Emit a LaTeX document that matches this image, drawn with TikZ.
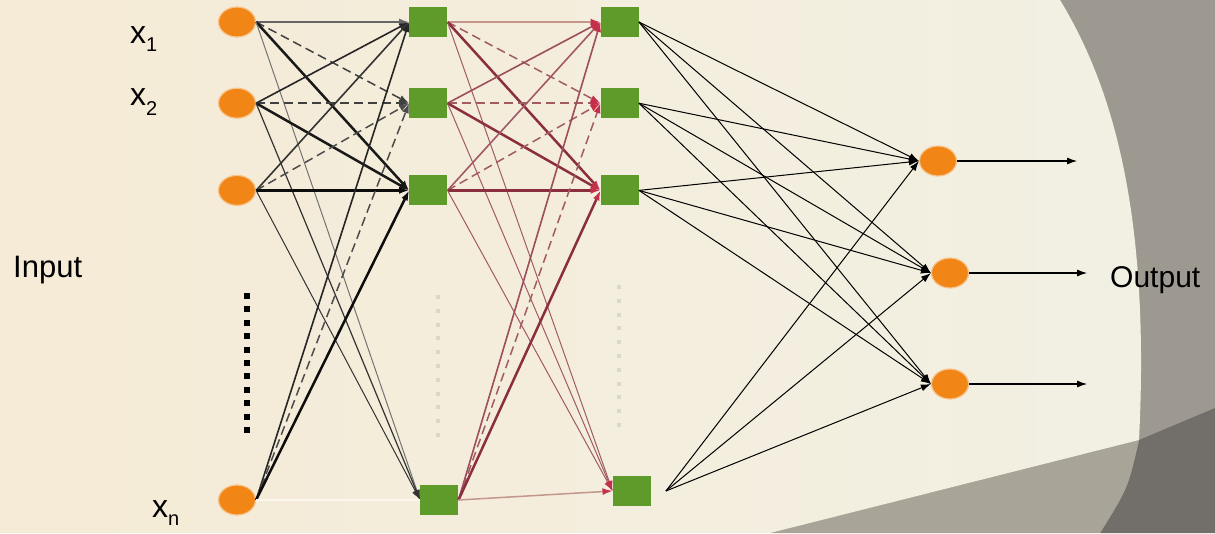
\documentclass[tikz,border=0pt]{standalone}
\usepackage{fontspec}
\setmainfont{Liberation Sans}
\usetikzlibrary{arrows.meta,positioning,shapes.geometric}
\definecolor{cream}{RGB}{245,235,214}
\definecolor{creamlight}{RGB}{242,240,227}
\definecolor{stone}{RGB}{157,153,144}
\definecolor{stonedark}{RGB}{114,111,106}
\definecolor{stonelight}{RGB}{168,164,152}
\definecolor{dotgray}{RGB}{220,215,203}
\definecolor{nodeorange}{RGB}{241,133,22}
\definecolor{haloorange}{RGB}{248,196,140}
\definecolor{nodegreen}{RGB}{94,155,42}
\definecolor{wine}{RGB}{139,47,62}
\definecolor{winesoft}{RGB}{160,92,98}
\definecolor{winepale}{RGB}{196,150,140}
\definecolor{tipred}{RGB}{196,48,74}

\begin{document}
\begin{tikzpicture}[x=1pt,y=-1pt,
  unit/.style={ellipse,fill=nodeorange,draw=haloorange,line width=1.2pt,
    minimum width=37pt,minimum height=30pt,inner sep=0pt},
  hid/.style={rectangle,fill=nodegreen,minimum width=38pt,minimum height=30pt,inner sep=0pt},
  lbl/.style={anchor=base west,inner sep=0pt,font=\fontsize{32}{36}\selectfont},
  wt/.style={draw,-{Latex[length=10pt,width=7pt]}},
  wtred/.style={draw,-{Latex[length=10pt,width=7pt,color=tipred]}},
  mid/.style={line width=1.6pt},
  dsh/.style={line width=1.5pt,dash pattern=on 9pt off 5pt},
  hvy/.style={line width=2.5pt},
  thn/.style={line width=1pt},
  outwire/.style={draw,line width=1.1pt,-{Latex[length=10pt,width=7pt]}}
]
\useasboundingbox (0,0) rectangle (1215,533);
% backdrop
\fill[stone] (0,0) rectangle (1215,533);
\fill[stonedark] (1139,440) -- (1215,408) -- (1215,533) -- (1100,533) .. controls (1128,488) .. (1139,440) -- cycle;
\fill[stonelight] (770,533) -- (1139,440) .. controls (1128,488) .. (1100,533) -- cycle;
\shade[left color=cream,right color=creamlight] (0,0) -- (1060,0)
  .. controls (1115,90) and (1150,220) .. (1139,440) -- (770,533) -- (0,533) -- cycle;

% units
\node[unit] (in1) at (237,22) {};
\node[unit,below=50pt of in1] (in2) {};
\node[unit,below=56pt of in2] (in3) {};
\node[unit] (inn) at (237,500) {};
\node[hid,right=153pt of in1] (h1) {};
\node[hid,right=153pt of in2] (h2) {};
\node[hid,right=153pt of in3] (h3) {};
\node[hid,right=164pt of inn] (h4) {};
\node[hid,right=153pt of h1] (g1) {};
\node[hid,right=153pt of h2] (g2) {};
\node[hid,right=153pt of h3] (g3) {};
\node[hid,right=154pt of h4,yshift=9pt] (g4) {};
\node[unit] (o1) at (938,161) {};
\node[unit] (o2) at (950,273) {};
\node[unit] (o3) at (950,384) {};
\coordinate[right=120pt of o1] (e1);
\coordinate[right=118pt of o2] (e2);
\coordinate[right=118pt of o3] (e3);

% labels
\node[lbl] (x1) at (130,43) {x\raisebox{-8pt}{\fontsize{20}{20}\selectfont 1}};
\node[lbl] (x2) at (130,105) {x\raisebox{-10pt}{\fontsize{20}{20}\selectfont 2}};
\node[lbl] (xn) at (152,517) {x\raisebox{-8pt}{\fontsize{20}{20}\selectfont n}};
\node[lbl,font=\fontsize{31}{36}\selectfont] (inlab) at (13,277) {Input};
\node[lbl,font=\fontsize{30}{36}\selectfont] (outlab) at (1110,287) {Output};

% dotted columns
\draw[line width=6pt,dash pattern=on 6pt off 7.4pt] (247,293) -- (247,437);
\draw[dotgray,line width=4pt,dash pattern=on 4pt off 9.8pt] (438,295) -- (438,437);
\draw[dotgray,line width=4pt,dash pattern=on 4pt off 9.8pt] (619,285) -- (619,428);

% input -> first hidden
\path (in1.east) edge[wt,line width=2.4pt,black!60] (h1.west) edge[wt,dsh,black!75] (h2.west)
  edge[wt,hvy,black!90] (h3.west) edge[wt,thn,black!55] (h4.west);
\path (in2.east) edge[wt,mid,black!85] (h1.west) edge[wt,dsh,black!75] (h2.west)
  edge[wt,hvy,black!90] (h3.west) edge[wt,line width=1.2pt,black!80] (h4.west);
\path (in3.east) edge[wt,mid,black!80] (h1.west) edge[wt,dsh,black!70] (h2.west)
  edge[wt,hvy,black!95] (h3.west) edge[wt,thn,black!80] (h4.west);
\path (inn.east) edge[wt,mid,black!85] (h1.west) edge[wt,dsh,black!70] (h2.west)
  edge[wt,hvy,black!95] (h3.west) edge[draw,line width=2pt,white!60!cream] (h4.west);

% first hidden -> second hidden
\path (h1.east) edge[wtred,line width=2.2pt,winepale] (g1.west) edge[wtred,dsh,winesoft] (g2.west)
  edge[wtred,hvy,wine] (g3.west) edge[wtred,thn,winesoft] (g4.west);
\path (h2.east) edge[wtred,mid,wine!85] (g1.west) edge[wtred,dsh,winesoft] (g2.west)
  edge[wtred,hvy,wine] (g3.west) edge[wtred,thn,wine!80] (g4.west);
\path (h3.east) edge[wtred,mid,wine!80] (g1.west) edge[wtred,dsh,winesoft] (g2.west)
  edge[wtred,hvy,wine] (g3.west) edge[wtred,thn,wine!80] (g4.west);
\path (h4.east) edge[wtred,mid,wine!85] (g1.west) edge[wtred,dsh,winesoft] (g2.west)
  edge[wtred,hvy,wine] (g3.west) edge[wtred,line width=1.5pt,winepale] (g4.west);

% second hidden -> output
\path (g1.east) edge[wt,thn,black] (o1.west) edge[wt,thn,black] (o2.west) edge[wt,thn,black] (o3.west);
\path (g2.east) edge[wt,thn,black] (o1.west) edge[wt,thn,black] (o2.west) edge[wt,thn,black] (o3.west);
\path (g3.east) edge[wt,thn,black] (o1.west) edge[wt,thn,black] (o2.west) edge[wt,thn,black] (o3.west);
\path ([xshift=15pt]g4.east) edge[wt,thn,black] (o1.west) edge[wt,thn,black] (o2.west) edge[wt,thn,black] (o3.west);

\draw[outwire] (o1.east) -- (e1);
\draw[outwire] (o2.east) -- (e2);
\draw[outwire] (o3.east) -- (e3);
\end{tikzpicture}
\end{document}
